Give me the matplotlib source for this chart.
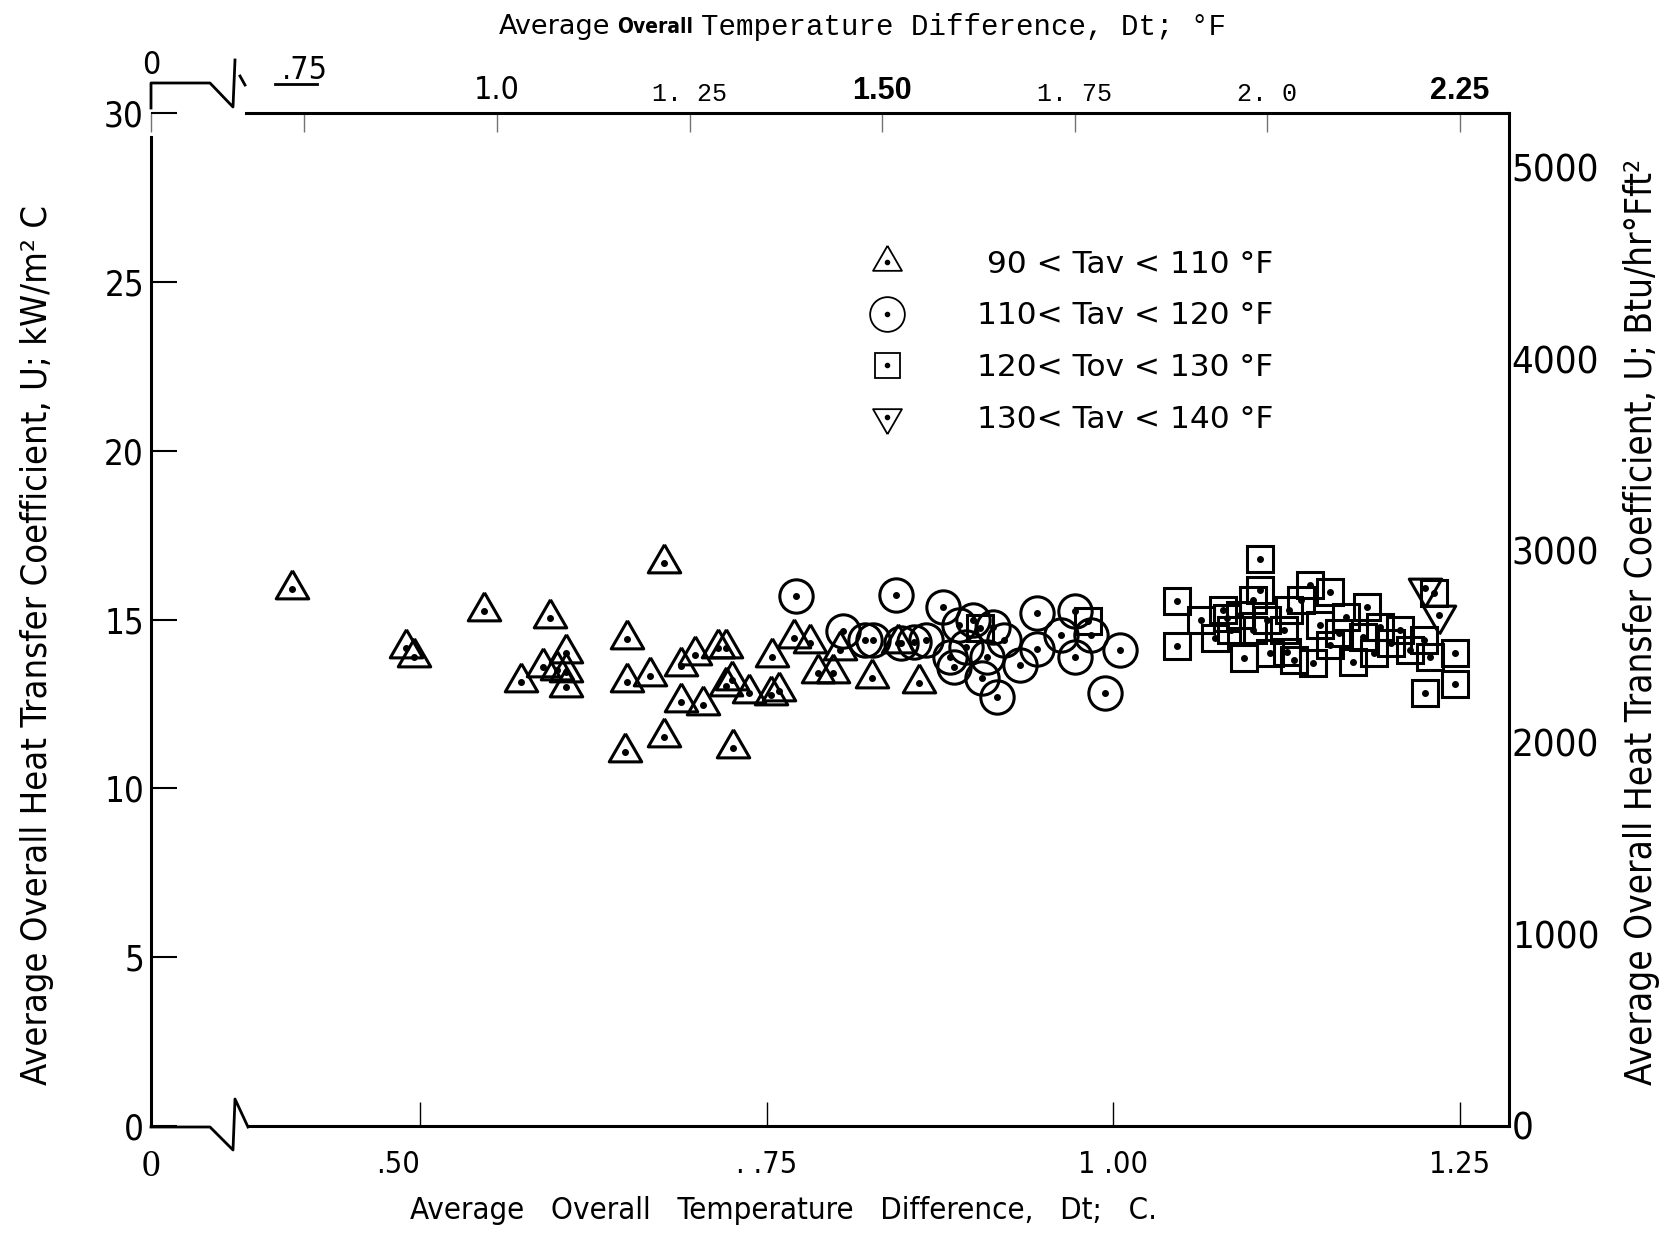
import matplotlib
matplotlib.use("Agg")
import matplotlib.pyplot as plt
from matplotlib.lines import Line2D
from matplotlib.legend_handler import HandlerTuple
from matplotlib.transforms import ScaledTranslation

# U vs Dt
# x = average overall temperature difference (deg C), y = U (kW/m2 C)
tri_dt = [0.408, 0.490, 0.496, 0.546, 0.594, 0.676, 0.573, 0.589, 0.605, 0.599,
          0.605, 0.605, 0.649, 0.649, 0.666, 0.688, 0.698, 0.715, 0.721, 0.688,
          0.704, 0.721, 0.725, 0.737, 0.754, 0.759, 0.753, 0.676, 0.648, 0.726,
          0.770, 0.781, 0.787, 0.798, 0.826, 0.860, 0.845, 0.803]
tri_u = [15.89, 14.15, 13.88, 15.26, 15.04, 16.68, 13.16, 13.60, 14.02, 13.50,
         13.45, 13.01, 14.42, 13.14, 13.33, 13.63, 13.95, 14.15, 14.15, 12.56,
         12.47, 13.03, 13.21, 12.81, 13.90, 12.89, 12.76, 11.53, 11.08, 11.18,
         14.44, 14.29, 13.41, 13.41, 13.26, 13.11, 14.29, 14.10]

circ_dt = [0.771, 0.843, 0.805, 0.821, 0.827, 0.847, 0.877, 0.945, 0.972, 0.962,
           0.984, 0.945, 0.933, 0.972, 1.005, 0.994, 0.916, 0.905, 0.882, 0.889,
           0.899, 0.913, 0.894, 0.909, 0.885, 0.921, 0.865, 0.856]
circ_u = [15.70, 15.72, 14.67, 14.39, 14.39, 14.29, 15.38, 15.20, 15.26, 14.54,
          14.54, 14.12, 13.65, 13.90, 14.10, 12.81, 12.71, 13.26, 13.90, 14.84,
          14.98, 14.79, 14.19, 13.90, 13.60, 14.39, 14.39, 14.34]

sq_dt = [0.904, 0.982, 1.046, 1.046, 1.063, 1.073, 1.079, 1.082, 1.106, 1.106,
         1.101, 1.094, 1.101, 1.111, 1.123, 1.130, 1.142, 1.135, 1.144, 1.156,
         1.156, 1.168, 1.173, 1.183, 1.180, 1.192, 1.200, 1.207, 1.214, 1.228,
         1.224, 1.246, 1.246, 1.225, 1.231, 1.113, 1.085, 1.125, 1.163, 1.188,
         1.091, 1.127, 1.149]
sq_u = [14.74, 14.95, 15.56, 14.21, 15.00, 14.44, 15.28, 15.03, 16.79, 15.87,
        15.58, 13.85, 14.69, 14.98, 14.69, 13.80, 16.02, 15.58, 13.70, 15.82,
        14.24, 15.08, 13.75, 15.38, 14.49, 14.79, 14.29, 14.69, 14.10, 13.90,
        14.39, 14.02, 13.09, 12.83, 15.77, 14.00, 14.69, 14.05, 14.59, 14.00,
        15.13, 15.28, 14.84]

dtri_dt = [1.225, 1.235]
dtri_u = [15.92, 15.13]

series_labels = [" 90 < Tav < 110 \u00b0F", "110< Tav < 120 \u00b0F",
                 "120< Tov < 130 \u00b0F", "130< Tav < 140 \u00b0F"]

# axes ticks
x_lo, x_hi = 0.306, 1.2853          # left edge is the broken "0"
c_ticks = [x_lo, 0.50, 0.75, 1.00, 1.25]
c_labels = ["0", ".50", ". .75", "1 .00", "1.25"]
f_ticks = [x_lo * 1.8, 0.75, 1.0, 1.25, 1.50, 1.75, 2.0, 2.25]
f_labels = ["0", ".75", "1.0", "1. 25", "1.50", "1. 75", "2. 0", "2.25"]
u_ticks = [0, 5, 10, 15, 20, 25, 30]
btu_ticks = [0, 1000, 2000, 3000, 4000, 5000]
BTU_PER_KW = 176.11   # 1 kW/m2 C = 176.1 Btu/hr ft2 F

SANS = ["DejaVu Sans"]
MONO = ["Liberation Mono", "DejaVu Sans Mono"]
COND = dict(family=SANS, stretch="condensed")

W, H = 1666, 1236
L, R, T, B = 151, 1509, 113, 1126   # plot frame in pixels

fig = plt.figure(figsize=(W / 100, H / 100), dpi=100)
ax = fig.add_axes([L / W, (H - B) / H, (R - L) / W, (B - T) / H])
ax.set_xlim(x_lo, x_hi)
ax.set_ylim(0, 30)


def frac(px, py):
    return (px - L) / (R - L), (B - py) / (B - T)


def xdata(px):
    return x_lo + (px - L) / (R - L) * (x_hi - x_lo)


tri_m = [(0, 1), (-0.866, -0.5), (0.866, -0.5), (0, 1)]
dtri_m = [(0, -1), (-0.866, 0.5), (0.866, 0.5), (0, -1)]

kw = dict(ls="none", mfc="none", mec="k", mew=2.2)
ax.plot(tri_dt, tri_u, marker=tri_m, ms=27, **kw)
ax.plot(circ_dt, circ_u, marker="o", ms=24, **kw)
ax.plot(sq_dt, sq_u, marker="s", ms=19, **kw)
ax.plot(dtri_dt, dtri_u, marker=dtri_m, ms=27, **kw)
for xs, ys in [(tri_dt, tri_u), (circ_dt, circ_u), (sq_dt, sq_u), (dtri_dt, dtri_u)]:
    ax.plot(xs, ys, ls="none", marker="o", ms=4, color="k")

# legend
handles = []
for m, ms in [(tri_m, 24), ("o", 25), ("s", 18), (dtri_m, 24)]:
    handles.append((Line2D([], [], ls="none", marker=m, ms=ms, mfc="none", mec="k", mew=1.3),
                    Line2D([], [], ls="none", marker="o", ms=3, color="k")))
lx, ly = frac(864, 250)
ax.legend(handles, series_labels, handler_map={tuple: HandlerTuple(ndivide=1, pad=0)},
          loc="upper left", bbox_to_anchor=(lx, ly), frameon=False, fontsize=22.5,
          handlelength=1.5, handletextpad=2.13, labelspacing=0.72,
          borderpad=0, borderaxespad=0)

# frame with the axis breaks
for s in ax.spines.values():
    s.set_linewidth(2.2)
ax.spines["top"].set_bounds(xdata(246), x_hi)
ax.spines["bottom"].set_bounds(xdata(248), x_hi)
ax.spines["left"].set_bounds(0, (B - 137) / (B - T) * 30)

for path in ([(151, 108), (151, 83), (210, 83), (233, 107), (235, 60)],
             [(240, 76), (245, 85)],
             [(275, 84), (317, 84)],
             [(151, 1127), (210, 1127), (233, 1150), (235, 1099), (248, 1127)]):
    pts = [frac(px, py) for px, py in path]
    ax.plot([p[0] for p in pts], [p[1] for p in pts], color="k", lw=2.0,
            transform=ax.transAxes, clip_on=False)

# bottom axis (C)
ax.set_xticks(c_ticks)
ax.set_xticklabels(c_labels, fontsize=22, **COND)
ax.tick_params(axis="x", direction="in", length=17, width=1.0, pad=17, top=False)
xt = ax.get_xticklabels()
xt[0].set_family("Liberation Serif")
xt[0].set_fontsize(27)
xt[1].set_ha("right")

# left axis (kW/m2 C)
ax.set_yticks(u_ticks)
ax.set_yticklabels([str(v) for v in u_ticks], fontsize=25, **COND)
ax.tick_params(axis="y", direction="in", length=19, width=1.5, pad=5, right=False)

# top axis (F)
top = ax.secondary_xaxis("top", functions=(lambda c: c * 1.8, lambda f: f / 1.8))
top.set_xticks(f_ticks)
top.set_xticklabels(f_labels, family=MONO, fontsize=18)
top.tick_params(direction="in", length=14, width=1.0, color="0.45", pad=5)
top.spines["top"].set_visible(False)
tl = top.get_xticklabels()
for i in (0, 1, 2):
    tl[i].set_family(SANS)
    tl[i].set_stretch("condensed")
    tl[i].set_fontsize(23)
for i in (4, 7):
    tl[i].set_family(["Liberation Sans", "DejaVu Sans"])
    tl[i].set_weight("bold")
    tl[i].set_fontsize(22)
# the two labels over the broken part sit higher
for i, dy in ((0, 0.25), (1, 0.2)):
    tl[i].set_transform(tl[i].get_transform() +
                        ScaledTranslation(0, dy, fig.dpi_scale_trans))

# right axis (Btu/hr F ft2)
rgt = ax.secondary_yaxis("right", functions=(lambda u: u * BTU_PER_KW,
                                             lambda b: b / BTU_PER_KW))
rgt.set_yticks(btu_ticks)
rgt.set_yticklabels([str(v) for v in btu_ticks], fontsize=27.5, **COND)
rgt.tick_params(length=0, pad=2)
rgt.spines["right"].set_visible(False)

# axis titles
ax.set_xlabel("Average   Overall   Temperature   Difference,   Dt;   C.",
              fontsize=22.4, **COND)
ax.xaxis.set_label_coords(*frac(784, 1196))
fig.text(37 / W, 1 - 645 / H, "Average Overall Heat Transfer Coefficient, U; kW/m\u00b2 C",
         rotation=90, ha="center", va="center", fontsize=26, **COND)
fig.text(1642 / W, 1 - 622 / H, "Average Overall Heat Transfer Coefficient, U; Btu/hr\u00b0Fft\u00b2",
         rotation=90, ha="center", va="center", fontsize=26.5, **COND)

ty = 1 - 27 / H
fig.text(499 / W, ty, "Average", family=SANS, fontsize=19.5, va="center")
fig.text(617 / W, ty, "Overall", family=SANS, stretch="condensed", weight="bold",
         fontsize=15, va="center")
fig.text(701 / W, ty, "Temperature Difference, Dt; \u00b0F", family=MONO, fontsize=21,
         va="center")

fig.savefig("out.png", dpi=100)
